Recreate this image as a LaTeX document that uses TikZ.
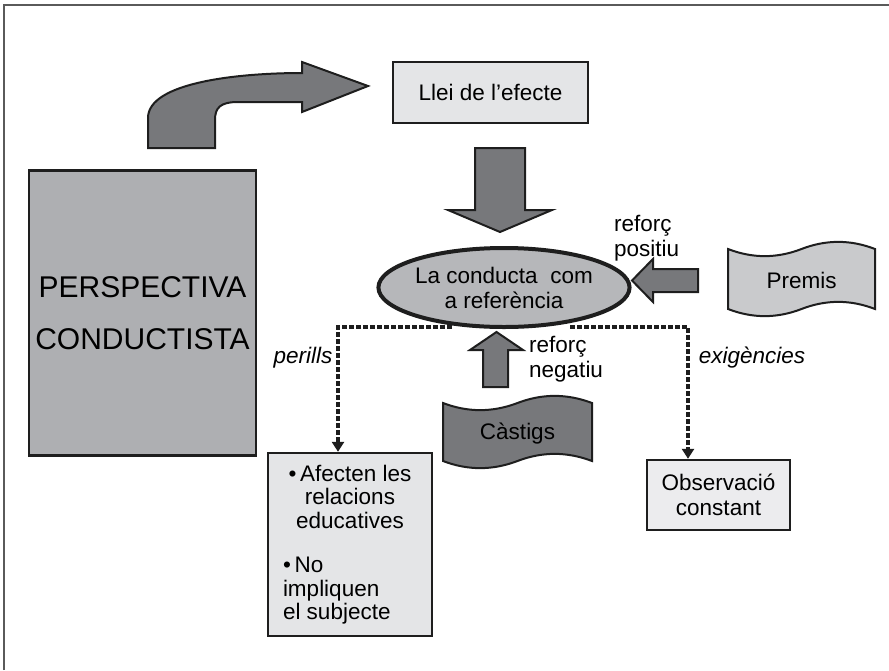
\documentclass[tikz,border=0pt]{standalone}
\usepackage{fontspec}
\setmainfont{Liberation Sans}
\usetikzlibrary{arrows.meta,shapes.geometric,calc}
\definecolor{darkfill}{HTML}{77787B}
\definecolor{midfill}{HTML}{AEAFB2}
\definecolor{ellfill}{HTML}{B6B7BA}
\definecolor{lightfill}{HTML}{E4E5E7}
\definecolor{palefill}{HTML}{ECECEE}
\definecolor{premfill}{HTML}{C9CACC}
\definecolor{edge}{HTML}{1E1E1E}
\definecolor{framecol}{HTML}{5A5A5A}
\newcommand\txtfs{\fontsize{22.5}{25}\selectfont}
\begin{document}
\begin{tikzpicture}[x=1pt,y=1pt,
  boxstyle/.style={draw=edge,line width=2.4pt,rectangle,inner sep=0pt,font=\txtfs,align=center},
  blockarrow/.style={draw=edge,line width=2pt,fill=darkfill,line join=miter},
  tapestyle/.style={draw=edge,line width=2pt},
  dconn/.style={draw=edge,line width=4pt,dash pattern=on 5pt off 2pt,-{Triangle[width=12pt,length=10pt]}},
  lbl/.style={font=\txtfs,inner sep=0pt},
  framestyle/.style={draw=framecol,line width=1.3pt}]
\useasboundingbox (0,0) rectangle (889,-670);
% frame
\draw[framestyle] (4,-670) -- (4,-5) -- (889,-5);

% main boxes
\node[boxstyle,fill=midfill,minimum width=227pt,minimum height=285pt,
      font=\fontsize{30}{52}\selectfont] (persp) at (142.5,-313) {PERSPECTIVA\\CONDUCTISTA};
\node[boxstyle,fill=lightfill,minimum width=195pt,minimum height=61pt] (llei) at (490.5,-92.5) {Llei de l’efecte};
\node[draw=edge,line width=4pt,ellipse,fill=ellfill,minimum width=250pt,minimum height=79pt,
      inner sep=0pt,font=\txtfs,align=center] (ell) at (504,-287.5) {La conducta~ com\\a referència};
\node[boxstyle,fill=lightfill,minimum width=164pt,minimum height=183pt] (aff) at (350,-544.5)
  {\begin{minipage}{134pt}\fontsize{22.5}{23.5}\selectfont
   \centering\textbullet\,Afecten les\\relacions\\educatives\par
   \vspace{21pt}\raggedright\textbullet\,No\\impliquen\\el subjecte\par\end{minipage}};
\node[boxstyle,fill=palefill,minimum width=143pt,minimum height=70pt] (obs) at (718.5,-495) {Observació\\constant};

% punched-tape shapes
\draw[tapestyle,fill=premfill]
  (728,-249) .. controls (752.5,-258.5) and (777,-258.5) .. (801.5,-249)
  .. controls (826,-239.5) and (850.5,-239.5) .. (875,-249)
  -- (875,-309) .. controls (850.5,-299.5) and (826,-299.5) .. (801.5,-309)
  .. controls (777,-318.5) and (752.5,-318.5) .. (728,-309) -- cycle;
\node[lbl] (premis) at (801.5,-280) {Premis};
\draw[tapestyle,fill=darkfill]
  (443,-403) .. controls (467.8,-412.5) and (492.5,-412.5) .. (517.5,-403)
  .. controls (542.3,-393.5) and (567,-393.5) .. (592,-403)
  -- (592,-461) .. controls (567,-451.5) and (542.3,-451.5) .. (517.5,-461)
  .. controls (492.5,-470.5) and (467.8,-470.5) .. (443,-461) -- cycle;
\node[lbl] (castigs) at (517.5,-434) {Càstigs};

% curved block arrow
\draw[blockarrow]
  (148,-148) -- (148,-118) .. controls (148,-82) and (240,-73) .. (302,-73)
  -- (302,-62) -- (368,-86) -- (302,-112) -- (302,-102) -- (238,-102)
  .. controls (220,-102) and (215,-108) .. (215,-120) -- (215,-148) -- cycle;
% down block arrow
\draw[blockarrow] (475,-148) -- (525,-148) -- (525,-210) -- (552,-210) -- (500,-232)
  -- (448,-210) -- (475,-210) -- cycle;
% left block arrow (Premis -> ellipse)
\draw[blockarrow] (698,-269) -- (653,-269) -- (653,-259) -- (632,-280.5) -- (653,-302)
  -- (653,-292) -- (698,-292) -- cycle;
% up block arrow (Castigs -> ellipse)
\draw[blockarrow] (483,-387) -- (483,-350) -- (470,-350) -- (496.5,-332) -- (523,-350)
  -- (508,-350) -- (508,-387) -- cycle;

% dashed connectors
\draw[dconn] ([xshift=-52pt,yshift=2pt]ell.south) -| ([xshift=-12pt]aff.north);
\draw[dconn] ([xshift=66pt,yshift=2pt]ell.south) -| ([xshift=-30.5pt]obs.north);

% labels
\node[lbl,font=\txtfs\itshape] (perills) at (303,-358) {perills};
\node[lbl,font=\txtfs\itshape] (exig) at (752,-358) {exigències};
\node[lbl,anchor=west,align=left] (refpos) at (614,-238) {reforç\\positiu};
\node[lbl,anchor=west,align=left] (refneg) at (529,-359) {reforç\\negatiu};
\end{tikzpicture}
\end{document}
